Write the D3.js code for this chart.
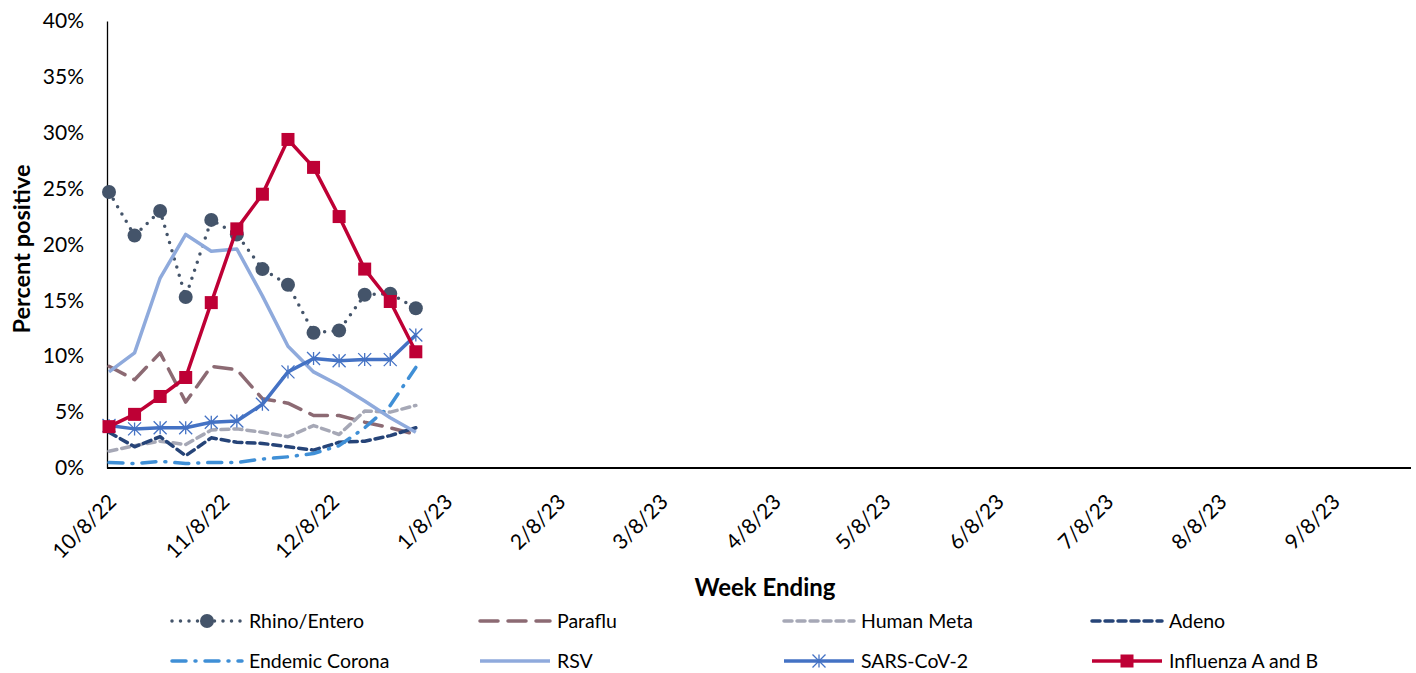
<!DOCTYPE html>
<html>
<head>
<meta charset="utf-8">
<script src="https://cdn.jsdelivr.net/npm/d3@7"></script>
<style>
  html, body { margin: 0; padding: 0; background: #fff; }
  svg { display: block; font-family: Lato, "Liberation Sans", sans-serif; }
</style>
</head>
<body>
<svg id="chart" width="1416" height="673"></svg>
<script>
// ---------- DATA ----------
const weeks = ["10/8/22","10/15/22","10/22/22","10/29/22","11/5/22","11/12/22","11/19/22","11/26/22","12/3/22","12/10/22","12/17/22","12/24/22","12/31/22"];
const rhinoEntero   = [24.7,20.8,23.0,15.3,22.2,20.9,17.8,16.4,12.1,12.3,15.5,15.6,14.3];
const paraflu       = [9.1,7.9,10.3,5.9,9.1,8.8,6.2,5.8,4.7,4.7,4.1,3.6,3.0];
const humanMeta     = [1.5,2.0,2.4,2.1,3.4,3.5,3.2,2.8,3.8,3.0,5.1,5.0,5.6];
const adeno         = [3.2,1.9,2.8,1.1,2.7,2.3,2.2,1.9,1.6,2.3,2.4,2.9,3.6];
const endemicCorona = [0.5,0.4,0.6,0.4,0.5,0.5,0.8,1.0,1.3,2.0,3.6,5.6,9.0];
const rsv           = [8.6,10.3,17.0,20.9,19.4,19.6,15.4,10.9,8.6,7.4,6.0,4.5,3.2];
const sarsCoV2      = [3.8,3.5,3.6,3.6,4.1,4.2,5.7,8.6,9.8,9.6,9.7,9.7,11.9];
const influenzaAB   = [3.7,4.8,6.4,8.1,14.8,21.4,24.5,29.4,26.9,22.5,17.8,14.9,10.4];
const xTickLabels = ["10/8/22","11/8/22","12/8/22","1/8/23","2/8/23","3/8/23","4/8/23","5/8/23","6/8/23","7/8/23","8/8/23","9/8/23"];
const xDomainLabels = ["10/8/22","9/30/23"];
const yTicks = [0,5,10,15,20,25,30,35,40];
const seriesNames = ["Rhino/Entero","Paraflu","Human Meta","Adeno","Endemic Corona","RSV","SARS-CoV-2","Influenza A and B"];

// ---------- STYLES ----------
const styles = {
  "Rhino/Entero":      {color:"#44546A", width:3.5, dash:"0,8.5", cap:"round", marker:"circle"},
  "Paraflu":           {color:"#8C6A73", width:3.5, dash:"18,10", cap:"round"},
  "Human Meta":        {color:"#A6A8B6", width:3.5, dash:"8,5", cap:"round"},
  "Adeno":             {color:"#264478", width:3.5, dash:"8,5", cap:"round"},
  "Endemic Corona":    {color:"#3F8FD6", width:3.5, dash:"14,9,1,9", cap:"round"},
  "RSV":               {color:"#8FAADC", width:3.5, dash:null, cap:"butt"},
  "SARS-CoV-2":        {color:"#4472C4", width:3.5, dash:null, cap:"butt", marker:"star"},
  "Influenza A and B": {color:"#BE0035", width:3.5, dash:null, cap:"butt", marker:"square"}
};
const values = [rhinoEntero, paraflu, humanMeta, adeno, endemicCorona, rsv, sarsCoV2, influenzaAB];

const parse = d3.timeParse("%m/%d/%y");
const svg = d3.select("#chart");
const plotLeft = 107, plotRight = 1411, plotTop = 21, plotBottom = 468;

const x = d3.scaleTime().domain(xDomainLabels.map(parse)).range([109, 1413]);
const y = d3.scaleLinear().domain([0, 40]).range([plotBottom, plotTop]);

// Y axis
const yAxis = svg.append("g").attr("transform", `translate(${plotLeft},0)`)
  .call(d3.axisLeft(y).tickValues(yTicks).tickSize(0).tickPadding(23).tickFormat(d => d + "%"));
yAxis.select(".domain").attr("stroke", "#000").attr("stroke-width", 1.3);
yAxis.selectAll("text").attr("font-size", 21).attr("fill", "#000").attr("font-family", "Lato, sans-serif");

// X axis
const xAxis = svg.append("g").attr("transform", `translate(0,${plotBottom})`)
  .call(d3.axisBottom(x).tickValues(xTickLabels.map(parse)).tickSize(0).tickFormat(""));
xAxis.select(".domain").remove();
xAxis.append("line")
  .attr("x1", plotLeft).attr("x2", plotRight).attr("y1", 0).attr("y2", 0)
  .attr("stroke", "#000").attr("stroke-width", 2);
xAxis.selectAll(".tick").each(function(d, i) {
  d3.select(this).append("text")
    .attr("transform", `translate(3,30) rotate(-45)`)
    .attr("text-anchor", "end")
    .attr("dy", "0.35em")
    .attr("font-size", 21)
    .attr("fill", "#000")
    .attr("font-family", "Lato, sans-serif")
    .text(xTickLabels[i]);
});

// Axis titles
svg.append("text")
  .attr("transform", `translate(30,249) rotate(-90)`)
  .attr("text-anchor", "middle")
  .attr("font-size", 23.5).attr("font-weight", "bold").attr("fill", "#000")
  .text("Percent positive");
svg.append("text")
  .attr("x", 765).attr("y", 596)
  .attr("text-anchor", "middle")
  .attr("font-size", 24).attr("font-weight", "bold").attr("fill", "#000")
  .text("Week Ending");

// Markers
function drawMarker(g, type, color, cx, cy) {
  if (type === "circle") {
    g.append("circle").attr("cx", cx).attr("cy", cy).attr("r", 7).attr("fill", color);
  } else if (type === "square") {
    g.append("rect").attr("x", cx - 6.5).attr("y", cy - 6.5).attr("width", 13).attr("height", 13).attr("fill", color);
  } else if (type === "star") {
    const s = 6.5;
    g.append("path")
      .attr("d", `M${cx},${cy - s}V${cy + s}M${cx - s},${cy - s}L${cx + s},${cy + s}M${cx - s},${cy + s}L${cx + s},${cy - s}`)
      .attr("stroke", color).attr("stroke-width", 1.3).attr("fill", "none");
  }
}

// Series
const dates = weeks.map(parse);
const line = d3.line().x((d, i) => x(dates[i])).y(d => y(d));
seriesNames.forEach((name, k) => {
  const st = styles[name];
  const g = svg.append("g");
  g.append("path")
    .attr("d", line(values[k]))
    .attr("fill", "none")
    .attr("stroke", st.color)
    .attr("stroke-width", st.width)
    .attr("stroke-linecap", st.cap)
    .attr("stroke-linejoin", "round")
    .attr("stroke-dasharray", st.dash);
  if (st.marker) {
    values[k].forEach((v, i) => drawMarker(g, st.marker, st.color, x(dates[i]), y(v)));
  }
});

// Legend
const legCols = [172, 480, 784, 1092];
const legRows = [621, 661];
seriesNames.forEach((name, k) => {
  const st = styles[name];
  const cx = legCols[k % 4], cy = legRows[Math.floor(k / 4)];
  const g = svg.append("g");
  g.append("line")
    .attr("x1", cx).attr("x2", cx + 70).attr("y1", cy).attr("y2", cy)
    .attr("stroke", st.color).attr("stroke-width", st.width)
    .attr("stroke-linecap", st.cap)
    .attr("stroke-dasharray", st.dash);
  if (st.marker) drawMarker(g, st.marker, st.color, cx + 35, cy);
  g.append("text")
    .attr("x", cx + 77).attr("y", cy).attr("dy", "0.35em")
    .attr("font-size", 19.5).attr("fill", "#000")
    .text(name);
});
</script>
</body>
</html>
